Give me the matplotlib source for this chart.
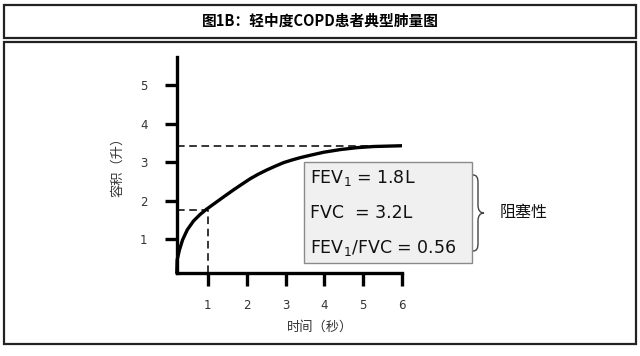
import matplotlib
matplotlib.use("Agg")
import matplotlib.pyplot as plt
from matplotlib.patches import Rectangle, PathPatch
from matplotlib.path import Path

plt.rcParams['font.family'] = ['DejaVu Sans', 'Noto Sans CJK SC']
cjk = ['Noto Sans CJK SC', 'DejaVu Sans']

# 曲线数据
time_s = [0.20, 0.21, 0.27, 0.35, 0.47, 0.63, 0.80, 0.97, 1.23, 1.45, 1.66, 1.88,
          2.09, 2.30, 2.52, 2.74, 2.95, 3.17, 3.38, 3.63, 3.98, 4.41, 4.84, 5.27, 6.00]
volume_l = [0.12, 0.46, 0.72, 0.98, 1.24, 1.47, 1.64, 1.78, 1.97, 2.13, 2.28, 2.43,
            2.57, 2.69, 2.80, 2.90, 2.99, 3.06, 3.12, 3.18, 3.26, 3.33, 3.38, 3.41, 3.43]
fev1_t = 1.0
fev1_v = 1.77
fvc_v = 3.43
axis_x0 = 0.20
axis_y0 = 0.12
xticks = [1, 2, 3, 4, 5, 6]
yticks = [1, 2, 3, 4, 5]
box_lines = ['FEV$_1$ = 1.8L', 'FVC  = 3.2L', 'FEV$_1$/FVC = 0.56']

W, H = 640, 356
fig = plt.figure(figsize=(6.4, 3.56), dpi=100)

# 背景层（像素坐标）
bg = fig.add_axes([0, 0, 1, 1])
bg.set_xlim(0, W)
bg.set_ylim(H, 0)
bg.axis('off')
bg.add_patch(Rectangle((3.5, 4.5), 632.5, 33.5, fill=False, lw=1.6, ec='#222'))
bg.add_patch(Rectangle((3.5, 41.5), 632.5, 302.5, fill=False, lw=1.6, ec='#222'))
bg.text(320, 21, '图1B：轻中度COPD患者典型肺量图', ha='center', va='center',
        fontsize=10.6, fontweight='bold', family=cjk)

# 主图
ax = fig.add_axes([169 / W, 1 - 277.5 / H, 233 / W, 220.5 / H])
ax.set_xlim(0, 6)
ax.set_ylim(0, 5.74)
ax.patch.set_visible(False)
ax.plot(time_s, volume_l, color='black', lw=2.4, solid_capstyle='round',
        solid_joinstyle='round', zorder=4)
ax.plot([axis_x0, 6.0], [fvc_v, fvc_v], color='black', lw=1.1, ls=(0, (5, 3)))
ax.plot([axis_x0, fev1_t], [fev1_v, fev1_v], color='black', lw=1.1, ls=(0, (5, 3)))
ax.plot([fev1_t, fev1_t], [axis_y0, fev1_v], color='black', lw=1.1, ls=(0, (5, 3)))

for s in ['top', 'right']:
    ax.spines[s].set_visible(False)
ax.spines['left'].set_position(('data', axis_x0))
ax.spines['bottom'].set_position(('data', axis_y0))
ax.spines['left'].set_bounds(axis_y0, 5.74)
ax.spines['bottom'].set_bounds(axis_x0, 6.0)
ax.spines['left'].set_linewidth(2.4)
ax.spines['bottom'].set_linewidth(2.4)
ax.set_xticks(xticks)
ax.set_yticks(yticks)
ax.tick_params(axis='x', direction='out', length=9, width=2.4, pad=10,
               labelsize=8.5, labelcolor='#333')
ax.tick_params(axis='y', direction='out', length=9, width=2.4, pad=12,
               labelsize=8.5, labelcolor='#333')

bg.text(320, 327, '时间（秒）', ha='center', va='center', fontsize=9.5,
        family=cjk, color='#333')
bg.text(118, 164, '容积（升）', ha='center', va='center', fontsize=9.5,
        family=cjk, color='#333', rotation=90)

# 结果框
bg.add_patch(Rectangle((304, 162), 168, 101, fc='#f0f0f0', ec='#8a8a8a', lw=1.0, zorder=5))
for i, line in enumerate(box_lines):
    bg.text(310, 178 + 35 * i, line, ha='left', va='center', fontsize=12.5,
            color='#111', zorder=6)

# 大括号
verts = [(473, 175), (477, 175), (478, 178), (478, 183),
         (478, 205),
         (478, 210), (480, 213), (484, 213),
         (480, 213), (478, 216), (478, 221),
         (478, 243),
         (478, 248), (477, 251), (473, 251)]
codes = [Path.MOVETO, Path.CURVE4, Path.CURVE4, Path.CURVE4,
         Path.LINETO,
         Path.CURVE4, Path.CURVE4, Path.CURVE4,
         Path.CURVE4, Path.CURVE4, Path.CURVE4,
         Path.LINETO,
         Path.CURVE4, Path.CURVE4, Path.CURVE4]
bg.add_patch(PathPatch(Path(verts, codes), fill=False, lw=1.0, ec='#444'))
bg.text(524, 213, '阻塞性', ha='center', va='center', fontsize=11.5, family=cjk, color='#111')

fig.savefig('out.png', dpi=100)
